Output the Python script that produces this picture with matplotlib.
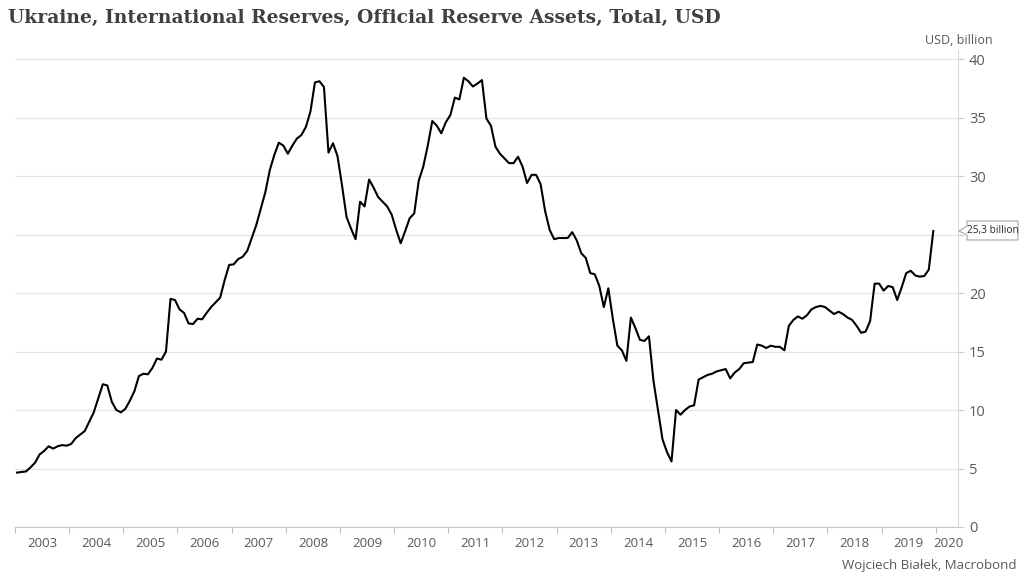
import numpy as np
import matplotlib
matplotlib.use("Agg")
import matplotlib.pyplot as plt
from matplotlib.patches import Polygon

# monthly official reserve assets, USD bn (Jan..Dec of each year)
r2003 = [4.65, 4.7, 4.75, 5.1, 5.5, 6.2, 6.5, 6.9, 6.7, 6.9, 7.0, 6.95]
r2004 = [7.1, 7.6, 7.9, 8.2, 9.0, 9.8, 11.0, 12.2, 12.1, 10.7, 10.0, 9.8]
r2005 = [10.1, 10.8, 11.6, 12.9, 13.1, 13.05, 13.6, 14.4, 14.3, 15.0, 19.5, 19.4]
r2006 = [18.6, 18.3, 17.4, 17.35, 17.8, 17.75, 18.3, 18.8, 19.2, 19.6, 21.1, 22.4]
r2007 = [22.45, 22.9, 23.1, 23.6, 24.7, 25.8, 27.2, 28.6, 30.5, 31.8, 32.85, 32.6]
r2008 = [31.9, 32.6, 33.2, 33.5, 34.2, 35.5, 38.0, 38.1, 37.6, 32.0, 32.8, 31.7]
r2009 = [29.2, 26.5, 25.5, 24.6, 27.8, 27.4, 29.7, 29.0, 28.2, 27.8, 27.4, 26.7]
r2010 = [25.4, 24.25, 25.3, 26.4, 26.8, 29.6, 30.8, 32.6, 34.7, 34.3, 33.65, 34.6]
r2011 = [35.2, 36.7, 36.55, 38.4, 38.1, 37.65, 37.9, 38.2, 34.9, 34.3, 32.5, 31.9]
r2012 = [31.5, 31.1, 31.1, 31.65, 30.8, 29.4, 30.1, 30.1, 29.3, 27.0, 25.4, 24.6]
r2013 = [24.7, 24.7, 24.7, 25.2, 24.5, 23.4, 23.0, 21.7, 21.6, 20.6, 18.8, 20.4]
r2014 = [17.8, 15.5, 15.1, 14.2, 17.9, 17.0, 16.0, 15.9, 16.3, 12.5, 10.0, 7.5]
r2015 = [6.4, 5.6, 10.0, 9.6, 10.0, 10.3, 10.4, 12.6, 12.8, 13.0, 13.1, 13.3]
r2016 = [13.4, 13.5, 12.7, 13.2, 13.5, 14.0, 14.05, 14.1, 15.6, 15.5, 15.3, 15.5]
r2017 = [15.4, 15.4, 15.1, 17.2, 17.7, 18.0, 17.8, 18.1, 18.6, 18.8, 18.9, 18.8]
r2018 = [18.5, 18.2, 18.4, 18.2, 17.9, 17.7, 17.2, 16.6, 16.7, 17.6, 20.8, 20.8]
r2019 = [20.2, 20.6, 20.5, 19.4, 20.5, 21.7, 21.9, 21.5, 21.4, 21.45, 22.0, 25.3]

reserves = np.array(r2003 + r2004 + r2005 + r2006 + r2007 + r2008 + r2009 + r2010
                    + r2011 + r2012 + r2013 + r2014 + r2015 + r2016 + r2017
                    + r2018 + r2019)
year_labels = [str(y) for y in range(2003, 2021)]
y_ticks = [0, 5, 10, 15, 20, 25, 30, 35, 40]
last_label = "25,3 billion"

t = 2003 + (np.arange(len(reserves)) + 0.45) / 12

grey = "#595959"
fig = plt.figure(figsize=(10.24, 5.82), dpi=100)
W, H = 1024, 582
ax = fig.add_axes([15 / W, 1 - 527 / H, (958 - 15) / W, (527 - 50) / H])

ax.plot(t, reserves, color="black", lw=1.5, zorder=3)
ax.set_xlim(2003, 2020.41)
ax.set_ylim(0, 40.77)

# y axis on the right; the "25" label sits under the callout box
ax.yaxis.tick_right()
ax.set_yticks(y_ticks)
ax.set_yticklabels(["" if v == 25 else str(v) for v in y_ticks], fontfamily="Open Sans")
ax.grid(axis="y", color="#e4e4e4", lw=0.9)
ax.tick_params(axis="y", length=4, color="#c8c8c8", labelsize=10.5,
               labelcolor=grey, pad=4)

for s in ["left", "top"]:
    ax.spines[s].set_visible(False)
ax.spines["right"].set_color("#d9d9d9")
ax.spines["bottom"].set_color("#c8c8c8")

# x axis: ticks at year starts, labels centred in each year
ax.set_xticks(range(2003, 2021))
ax.set_xticklabels([])
ax.set_xticks([y + 0.5 for y in range(2003, 2020)] + [2020.24], minor=True)
ax.set_xticklabels(year_labels, minor=True, fontfamily="Open Sans")
ax.tick_params(axis="x", which="major", length=4, color="#bfbfbf")
ax.tick_params(axis="x", which="minor", length=0, labelsize=9.5,
               labelcolor=grey, pad=7)

# callout for the last value
x0, yc = ax.transData.transform((2020.41, reserves[-1]))
pts = [(x0 + 1, yc), (x0 + 9, yc + 5), (x0 + 9, yc + 10), (x0 + 60, yc + 10),
       (x0 + 60, yc - 9), (x0 + 9, yc - 9), (x0 + 9, yc - 4)]
pts = fig.transFigure.inverted().transform(pts)
fig.patches.append(Polygon(pts, closed=True, facecolor="white", edgecolor="#a6a6a6",
                           lw=0.8, transform=fig.transFigure, zorder=10))
cx, cy = fig.transFigure.inverted().transform((x0 + 35, yc + 0.5))
fig.text(cx, cy, last_label, ha="center", va="center", fontsize=7.3,
         color="#262626", fontfamily="Open Sans", zorder=11)

fig.text(8 / W, 1 - 18 / H, "Ukraine, International Reserves, Official Reserve Assets, Total, USD",
         ha="left", va="center", fontsize=13.5, fontweight="bold",
         fontfamily="DejaVu Serif", color="#404040")
fig.text(959 / W, 1 - 40 / H, "USD, billion", ha="center", va="center",
         fontsize=9, color=grey, fontfamily="Open Sans")
fig.text(1016 / W, 1 - 565 / H, "Wojciech Białek, Macrobond", ha="right", va="center",
         fontsize=9.5, color=grey, fontfamily="Open Sans")

fig.savefig("out.png", dpi=100)
